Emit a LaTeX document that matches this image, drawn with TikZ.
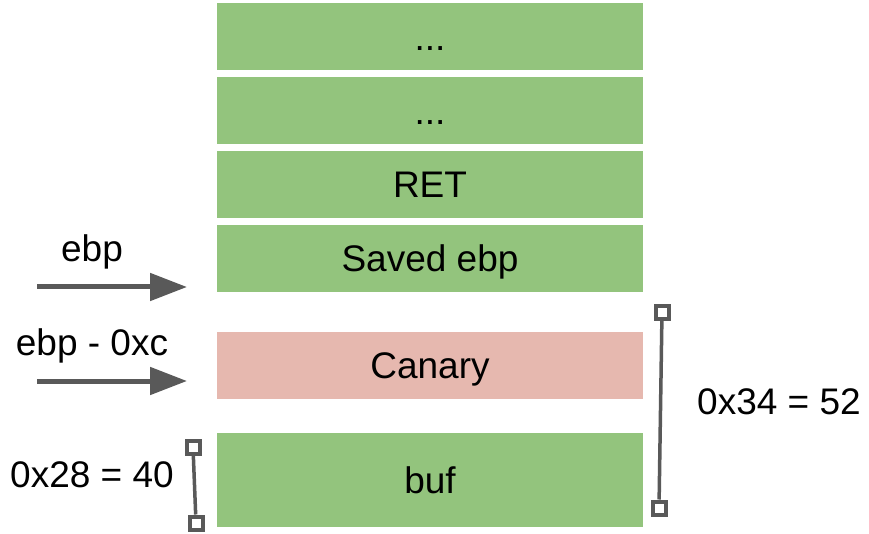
\documentclass[tikz,border=0pt]{standalone}
\usepackage{fontspec}
\setmainfont{Liberation Sans}
\usepackage{tikz}
\usetikzlibrary{arrows.meta}

\definecolor{slotgreen}{HTML}{93C47D}
\definecolor{slotred}{HTML}{E6B8AF}
\definecolor{markgray}{HTML}{595959}

\begin{document}
\begin{tikzpicture}[x=1pt,y=-1pt,
  slot/.style={fill=slotgreen, minimum width=426pt, minimum height=67pt, inner sep=0pt, text height=26.5pt, text depth=0pt, font=\fontsize{37}{40}\selectfont},
  lbl/.style={font=\fontsize{37}{40}\selectfont, inner sep=0pt},
  ptr/.style={draw=markgray, line width=5pt, -{Triangle[length=37pt,width=27pt]}},
  endbox/.style={draw=markgray, fill=white, line width=4pt, minimum size=13pt, inner sep=0pt},
  span/.style={draw=markgray, line width=3.5pt}]
\useasboundingbox (0,0) rectangle (869,534);

\node[slot] (top1) at (430,37) {...};
\node[slot] (top2) at (430,111) {...};
\node[slot] (ret) at (430,184.5) {RET};
\node[slot] (saved) at (430,258.5) {Saved ebp};
\node[slot, fill=slotred] (canary) at (430,365) {Canary};
\node[slot, minimum height=94pt] (buf) at (430,480) {buf};

% pointers on the left
\node[lbl] (ebplbl) at (92,252) {ebp};
\coordinate (ebpfrom) at (37,287);
\coordinate (ebpto) at (187,287);
\draw[ptr] (ebpfrom) -- (ebpto);

\node[lbl] (offlbl) at (92,346) {ebp - 0xc};
\coordinate (offfrom) at (37,381);
\coordinate (offto) at (187,381);
\draw[ptr] (offfrom) -- (offto);

% left size
\node[endbox] (bufhi) at (193,447) {};
\node[endbox] (buflo) at (196,523) {};
\draw[span] (bufhi) -- (buflo);
\node[lbl] (bufsize) at (92,475) {0x28 = 40};

% right size
\node[endbox] (allhi) at (662,312) {};
\node[endbox] (alllo) at (659,508) {};
\draw[span] (allhi) -- (alllo);
\node[lbl] (allsize) at (779,402) {0x34 = 52};

\end{tikzpicture}
\end{document}
